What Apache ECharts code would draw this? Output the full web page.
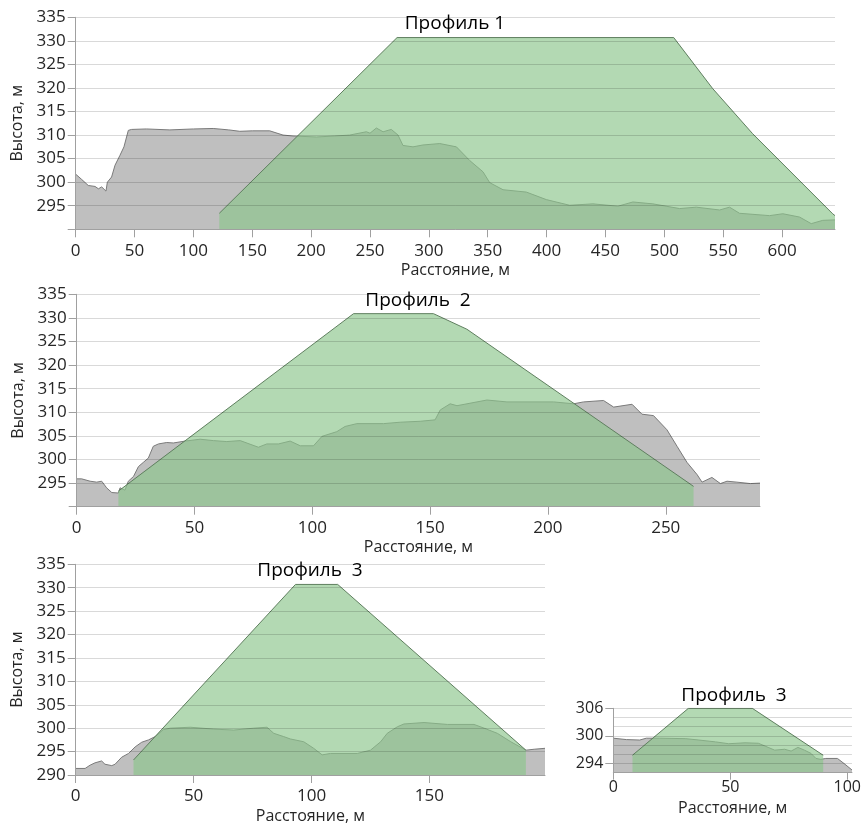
<!DOCTYPE html>
<html>
<head>
<meta charset="utf-8">
<script src="https://cdn.jsdelivr.net/npm/echarts@6/dist/echarts.min.js"></script>
<style>
html,body{margin:0;padding:0;background:#fff;}
#chart{width:864px;height:825px;}
</style>
</head>
<body>
<div id="chart"></div>
<script>
// ---------- DATA ----------
const titles = ['Профиль 1', 'Профиль  2', 'Профиль  3', 'Профиль  3'];
const xAxisName = 'Расстояние, м';
const yAxisName = 'Высота, м';

// Profile 1
const p1GroundDist = [0,5,10.7,16.4,19.3,22.1,25.7,26.9,30.5,33.4,37.6,41,44.7,47.5,60,80,100,116.8,130,139.4,150,164.8,176.1,184.6,204.4,220,232.7,246.9,250,255.4,261.1,268.1,273.8,278,286.5,295,309.3,323.4,334.7,346,351.7,363,382.8,399.8,419.6,439.4,460.6,473.3,490.3,513,527.2,547,555.4,563.9,589.4,600.7,614.9,624.8,634.6,645];
const p1GroundH    = [301.7,300.6,299.3,299.1,298.6,299.0,298.1,300.0,301.1,303.6,305.7,307.5,311.0,311.2,311.3,311.1,311.3,311.4,311.1,310.8,310.9,310.9,310.0,309.8,309.6,309.8,310.0,310.7,310.4,311.5,310.7,311.2,310.0,307.8,307.5,307.9,308.2,307.5,304.6,302.2,299.9,298.4,297.9,296.3,295.1,295.4,294.9,295.8,295.4,294.4,294.7,294.1,294.7,293.4,292.9,293.3,292.6,291.2,291.9,292.0];
const p1DamDist = [122,273,508,541,575,643,645];
const p1DamH    = [293.4,330.7,330.7,319.9,310.3,293.3,292.9];

// Profile 2
const p2GroundDist = [0,2.1,5.7,8.5,10.6,12.7,14.9,17.7,18.4,20.5,21.9,24.1,26.2,28.3,30.4,32.5,34.7,38.2,41,46,52.4,58,63.7,69.4,77.1,80.7,85.6,90.6,94.9,100.5,104.1,110.4,113.9,118.9,130.2,137.3,145.8,152.1,154.3,158.5,161.4,174.1,182.6,202.4,210.9,215.1,223.6,227.9,235.7,239.9,244.8,250.5,254.8,259,263.3,265.4,269.6,273.2,276,280.2,285.9,290];
const p2GroundH    = [295.9,295.9,295.4,295.2,295.4,294.0,293.0,292.9,294.0,293.5,295.4,296.4,298.5,299.4,300.3,302.8,303.3,303.6,303.5,303.9,304.3,304.0,303.8,304.0,302.6,303.3,303.3,303.9,302.9,302.9,304.9,305.9,307.0,307.6,307.6,307.9,308.1,308.4,310.5,311.8,311.4,312.6,312.2,312.2,311.8,312.2,312.5,311.1,311.7,309.6,309.3,306.3,302.8,299.4,296.8,295.2,296.2,294.9,295.4,295.2,294.9,295.0];
const p2DamDist = [17.7,117.5,151.4,165.6,261.8];
const p2DamH    = [293.3,330.9,330.9,327.6,294.3];

// Profile 3
const p3GroundDist = [0,4,6.1,8.2,11,12.4,15.3,16.7,19.5,22.4,25.2,28,30.9,33.7,37.2,40.1,48.6,58.5,67,75.5,81.1,84,88.2,91,96.7,100.9,104.5,108,119.4,125,129.3,132.1,136.4,139.2,147.7,157.6,168.9,173.2,178.8,184.5,189.5,190.9,194.4,199];
const p3GroundH    = [291.4,291.4,292.1,292.6,293.0,292.3,292.0,292.3,293.8,294.6,296.0,297.0,297.5,298.2,299.7,300.0,300.2,299.8,299.6,300.0,300.2,298.9,298.2,297.7,297.1,295.7,294.3,294.6,294.6,295.3,297.1,298.9,300.3,300.9,301.2,300.8,300.8,300.0,298.9,297.1,295.7,295.3,295.5,295.7];
const p3DamDist = [24.5,93.2,111.1,190.9];
const p3DamH    = [293.2,330.7,330.7,295.3];

// Profile 3 (small)
const p4GroundDist = [0,5.6,11.3,14.1,19.7,31,36.6,43.7,49.3,56.3,62,66.2,69,73.2,76,78.9,81.7,84.5,86.6,88.7,90.8,95.8,98.6,102];
const p4GroundH    = [299.5,299.2,299.1,299.5,299.5,299.4,299.1,298.7,298.3,298.5,298.4,297.5,296.9,297.1,296.7,297.5,296.9,296.2,295.1,294.9,295.1,295.1,294.0,292.6];
const p4DamDist = [8.2,32.1,59.4,89.7];
const p4DamH    = [295.8,306,306,295.8];

// Axis ranges and tick labels
const xMaxes = [645, 290, 199, 102];
const xTicks = [
  [0,50,100,150,200,250,300,350,400,450,500,550,600],
  [0,50,100,150,200,250],
  [0,50,100,150],
  [0,50,100]
];
const yMins = [290, 290, 290, 292];
const yMaxes = [335, 335, 335, 306];
const yIntervals = [5, 5, 5, 2];
const yTickLabels = [
  [295,300,305,310,315,320,325,330,335],
  [295,300,305,310,315,320,325,330,335],
  [290,295,300,305,310,315,320,325,330,335],
  [294,300,306]
];

// ---------- CHART ----------
const zip = (a, b) => a.map((v, i) => [v, b[i]]);
const grounds = [zip(p1GroundDist,p1GroundH), zip(p2GroundDist,p2GroundH), zip(p3GroundDist,p3GroundH), zip(p4GroundDist,p4GroundH)];
const dams = [zip(p1DamDist,p1DamH), zip(p2DamDist,p2DamH), zip(p3DamDist,p3DamH), zip(p4DamDist,p4DamH)];

const FONT = 'Open Sans';
const TXT = '#262626';
const grids = [
  {left:75.7, top:17.3, width:759.3, height:212},
  {left:76.7, top:294.3, width:683.3, height:212.4},
  {left:75.7, top:564.3, width:469.3, height:210.7},
  {left:613.3, top:708.3, width:241.7, height:64.4}
];
const titlePos = [[455,24],[418,301],[310,571],[734,696]];

const xAxes = [], yAxes = [], series = [];
for (let i = 0; i < 4; i++) {
  const small = i === 3;
  xAxes.push({
    gridIndex:i, type:'value', min:0, max:xMaxes[i], z:5,
    axisLine:{lineStyle:{color:'#a0a0a0', width:1}},
    axisTick:{customValues:xTicks[i], length:small?7:8, lineStyle:{color:'#a0a0a0'}},
    axisLabel:{customValues:xTicks[i], fontFamily:FONT, fontSize:small?16:17, color:TXT, margin:small?7:13},
    splitLine:{show:false},
    name:xAxisName, nameLocation:'middle', nameGap:small?28:33,
    nameTextStyle:{fontFamily:FONT, fontSize:16, color:TXT}
  });
  yAxes.push({
    gridIndex:i, type:'value', min:yMins[i], max:yMaxes[i], interval:yIntervals[i], z:5,
    axisLine:{show:true, lineStyle:{color:'#a0a0a0', width:1}},
    axisTick:{show:!small, length:8, lineStyle:{color:'#a0a0a0'}},
    axisLabel:{customValues:yTickLabels[i], fontFamily:FONT, fontSize:small?16:17, color:TXT, margin:10},
    splitLine:{show:true, lineStyle:{color:'rgba(0,0,0,0.15)', width:1}},
    name: small ? '' : yAxisName, nameLocation:'middle', nameGap:48,
    nameTextStyle:{fontFamily:FONT, fontSize:16, color:TXT}
  });
  series.push({
    type:'line', xAxisIndex:i, yAxisIndex:i, data:grounds[i], symbol:'none', z:2,
    lineStyle:{color:'#7a7a7a', width:1},
    areaStyle:{color:'#bfbfbf', opacity:1, origin:'start'}
  });
  series.push({
    type:'line', xAxisIndex:i, yAxisIndex:i, data:dams[i], symbol:'none', z:3,
    lineStyle:{color:'#5f7f5f', width:1},
    areaStyle:{color:'rgb(139,197,139)', opacity:0.66, origin:'start'}
  });
}
// extra tick-only axis for the small chart
yAxes.push({
  gridIndex:3, type:'value', min:292, max:306, position:'left', z:5,
  axisLine:{show:false}, splitLine:{show:false}, axisLabel:{show:false},
  axisTick:{show:true, customValues:yTickLabels[3], length:8, lineStyle:{color:'#a0a0a0'}}
});

const chart = echarts.init(document.getElementById('chart'), null, {renderer:'canvas'});
chart.setOption({
  backgroundColor:'#ffffff',
  animation:false,
  grid:grids,
  xAxis:xAxes,
  yAxis:yAxes,
  series:series,
  graphic: titles.map((t, i) => ({
    type:'text', x:titlePos[i][0], y:titlePos[i][1], z:10,
    style:{text:t, fontFamily:FONT, fontSize:19, fill:'#000', textAlign:'center', textVerticalAlign:'middle'}
  }))
});
</script>
</body>
</html>
